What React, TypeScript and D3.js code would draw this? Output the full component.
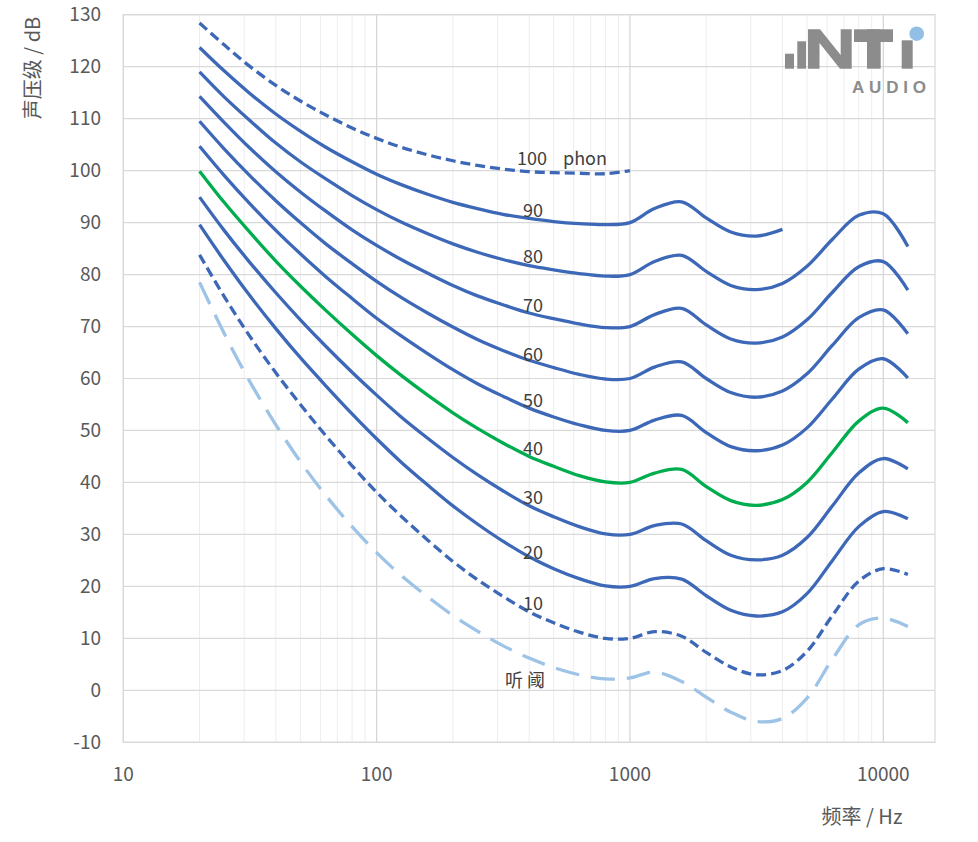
import React from 'react';
import * as d3 from 'd3';

// ISO 226 style equal-loudness contours
const frequencies = [20, 25, 31.5, 40, 50, 63, 80, 100, 125, 160, 200, 250, 315, 400, 500, 630, 800, 1000, 1250, 1600, 2000, 2500, 3150, 4000, 5000, 6300, 8000, 10000, 12500];

const threshold = [78.5, 68.7, 59.5, 51.1, 44.0, 37.5, 31.5, 26.5, 22.1, 17.9, 14.4, 11.4, 8.6, 6.2, 4.4, 3.0, 2.2, 2.4, 3.5, 1.7, -1.3, -4.2, -6.0, -5.4, -1.5, 6.0, 12.6, 13.9, 12.3];
const phon10 = [83.8, 75.8, 68.2, 61.1, 55.0, 49.0, 43.2, 38.1, 33.5, 28.8, 24.8, 21.3, 18.1, 15.1, 13.0, 11.2, 10.0, 10.0, 11.3, 10.4, 7.3, 4.5, 3.0, 3.8, 7.5, 14.4, 21.0, 23.4, 22.3];
const phon20 = [89.6, 82.7, 76.0, 69.6, 64.0, 58.6, 53.2, 48.4, 43.9, 39.4, 35.5, 32.0, 28.7, 25.7, 23.4, 21.5, 20.1, 20.0, 21.5, 21.4, 18.2, 15.4, 14.3, 15.1, 18.6, 25.0, 31.5, 34.4, 33.0];
const phon30 = [94.9, 88.5, 82.4, 76.5, 71.3, 66.2, 61.2, 56.8, 52.6, 48.4, 44.8, 41.5, 38.4, 35.5, 33.4, 31.5, 30.1, 30.0, 31.7, 32.0, 28.8, 26.0, 25.1, 26.0, 29.4, 35.5, 41.8, 44.6, 42.6];
const phon40 = [99.9, 93.9, 88.2, 82.6, 77.8, 73.1, 68.5, 64.4, 60.6, 56.7, 53.4, 50.4, 47.6, 45.0, 43.1, 41.3, 40.1, 40.0, 41.8, 42.5, 39.2, 36.5, 35.6, 36.7, 40.0, 45.8, 51.8, 54.3, 51.5];
const phon50 = [104.7, 99.1, 93.7, 88.5, 84.0, 79.6, 75.4, 71.6, 68.2, 64.7, 61.7, 59.0, 56.6, 54.3, 52.6, 51.1, 50.0, 50.0, 52.0, 52.9, 49.6, 46.9, 46.1, 47.2, 50.5, 56.1, 61.8, 63.8, 60.1];
const phon60 = [109.5, 104.2, 99.1, 94.2, 90.0, 85.9, 82.1, 78.7, 75.6, 72.5, 69.9, 67.5, 65.4, 63.5, 62.1, 60.8, 59.9, 60.0, 62.2, 63.2, 60.0, 57.3, 56.4, 57.6, 60.9, 66.4, 71.7, 73.2, 68.6];
const phon70 = [114.3, 109.3, 104.4, 99.8, 95.9, 92.2, 88.6, 85.6, 82.9, 80.2, 77.9, 75.9, 74.2, 72.6, 71.5, 70.5, 69.8, 70.0, 72.3, 73.5, 70.3, 67.6, 66.8, 68.0, 71.3, 76.6, 81.5, 82.5, 77.0];
const phon80 = [119.0, 114.2, 109.7, 105.3, 101.7, 98.4, 95.2, 92.5, 90.1, 87.8, 85.9, 84.3, 82.9, 81.7, 80.9, 80.2, 79.7, 80.0, 82.5, 83.7, 80.6, 77.9, 77.1, 78.3, 81.6, 86.8, 91.4, 91.7, 85.4];
const phon90 = [123.7, 119.2, 114.9, 110.9, 107.6, 104.5, 101.7, 99.3, 97.3, 95.4, 93.9, 92.7, 91.6, 90.8, 90.2, 89.8, 89.6, 90.0, 92.7, 94.0, 90.9, 88.2, 87.4, 88.7];
const phon100 = [128.4, 124.2, 120.1, 116.4, 113.4, 110.7, 108.2, 106.2, 104.5, 103.0, 101.9, 101.0, 100.3, 99.8, 99.6, 99.5, 99.4, 100.0];

const yTicks = [-10, 0, 10, 20, 30, 40, 50, 60, 70, 80, 90, 100, 110, 120, 130];
const xTicks = [10, 100, 1000, 10000];

// curve labels: text, frequency, level (dB) of the text baseline
const labelText = ['100', 'phon', '90', '80', '70', '60', '50', '40', '30', '20', '10', '听 阈'];
const labelFreq = [358, 544, 378, 378, 378, 378, 378, 378, 378, 378, 378, 321];
const labelDb = [101.1, 101.1, 91.1, 82.3, 72.8, 63.4, 54.5, 45.3, 35.9, 25.3, 15.5, 0.7];

const BLUE = '#3d68b8';
const GREEN = '#00ad4e';
const LIGHT = '#9dc3e6';
const FONT = "'Noto Sans CJK SC', 'Noto Sans', sans-serif";

const series = [
  { values: threshold, color: LIGHT, dash: '24 12' },
  { values: phon10, color: BLUE, dash: '10 5' },
  { values: phon20, color: BLUE },
  { values: phon30, color: BLUE },
  { values: phon40, color: GREEN },
  { values: phon50, color: BLUE },
  { values: phon60, color: BLUE },
  { values: phon70, color: BLUE },
  { values: phon80, color: BLUE },
  { values: phon90, color: BLUE },
  { values: phon100, color: BLUE, dash: '10 5' },
];

export default function App() {
  const left = 123.3, right = 935, top = 14.7, bottom = 742.3;
  const x = d3.scaleLog().domain([10, 16000]).range([left, right]);
  const y = d3.scaleLinear().domain([-10, 130]).range([bottom, top]);

  const line = d3
    .line<number>()
    .x((_, i) => x(frequencies[i]))
    .y((d) => y(d))
    .curve(d3.curveCatmullRom.alpha(0.5));

  const minor: number[] = [];
  xTicks.forEach((dec) => {
    for (let k = 2; k <= 9; k++) if (k * dec < 16000) minor.push(k * dec);
  });

  return (
    <svg
      width={978}
      height={842}
      style={{ position: 'absolute', left: 0, top: 0, background: '#fff' }}
      fontFamily={FONT}
    >
      {/* grid */}
      {minor.map((f) => (
        <line key={'m' + f} x1={x(f)} x2={x(f)} y1={top} y2={bottom} stroke="#ededed" strokeWidth={1} />
      ))}
      {yTicks.map((t) => (
        <line key={'h' + t} x1={left} x2={right} y1={y(t)} y2={y(t)} stroke="#d9d9d9" strokeWidth={1.2} />
      ))}
      {xTicks.map((t) => (
        <line key={'v' + t} x1={x(t)} x2={x(t)} y1={top} y2={bottom} stroke="#d4d4d4" strokeWidth={1.2} />
      ))}
      <rect x={left} y={top} width={right - left} height={bottom - top} fill="none" stroke="#d9d9d9" strokeWidth={1.2} />

      {/* tick labels */}
      {yTicks.map((t) => (
        <text key={'yl' + t} x={101} y={y(t)} dy="0.35em" textAnchor="end" fontSize={19} fill="#595959">
          {t}
        </text>
      ))}
      {xTicks.map((t) => (
        <text key={'xl' + t} x={x(t)} y={774} dy="0.35em" textAnchor="middle" fontSize={19} fill="#595959">
          {t}
        </text>
      ))}

      {/* axis titles */}
      <text transform="translate(33,68) rotate(-90)" dy="0.35em" textAnchor="middle" fontSize={20} fill="#595959">
        声压级 / dB
      </text>
      <text x={862} y={817} dy="0.35em" textAnchor="middle" fontSize={20} fill="#595959">
        频率 / Hz
      </text>

      {/* logo */}
      <g fill="#8c8c8c">
        <rect x={785} y={53.7} width={9} height={15} />
        <rect x={797.3} y={41.3} width={8.7} height={27.4} />
        <polygon points="808,68.7 808,29.3 820,29.3 840.7,55 840.7,29.3 851.7,29.3 851.7,68.7 840,68.7 819.5,43 819.5,68.7" />
        <rect x={854} y={29.3} width={39} height={12.7} />
        <rect x={867} y={29.3} width={13.7} height={39.4} />
        <rect x={901.7} y={40.3} width={11} height={28.4} />
        <text x={852} y={92.7} fontSize={17} fontWeight={700} fontFamily="'Liberation Sans', sans-serif" textLength={74} lengthAdjust="spacing">
          AUDIO
        </text>
      </g>
      <circle cx={916.7} cy={33.7} r={7.3} fill="#93bfe6" />

      {/* curves */}
      {series.map((s, i) => (
        <path
          key={'s' + i}
          d={line(s.values) || ''}
          fill="none"
          stroke={s.color}
          strokeWidth={3.3}
          strokeDasharray={s.dash}
        />
      ))}

      {/* curve labels */}
      {labelText.map((t, i) => (
        <text key={'lb' + i} x={x(labelFreq[i])} y={y(labelDb[i])} fontSize={18} fill="#404040">
          {t}
        </text>
      ))}
    </svg>
  );
}
